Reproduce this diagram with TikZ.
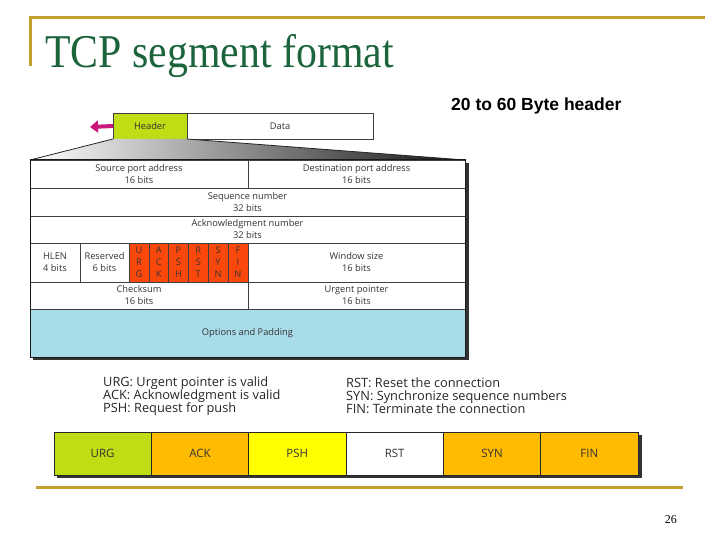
\documentclass[tikz,border=0pt]{standalone}
\usepackage{fontspec}
\setmainfont{Liberation Serif}
\newfontfamily\arialfont{Liberation Sans}
\newfontfamily\figfont{Open Sans}
\usetikzlibrary{arrows.meta, positioning}

\definecolor{gold}{RGB}{193,160,45}
\definecolor{titlegreen}{RGB}{28,100,60}
\definecolor{limegreen}{RGB}{192,220,20}
\definecolor{flagred}{RGB}{250,72,12}
\definecolor{optblue}{RGB}{169,220,233}
\definecolor{amber}{RGB}{255,187,0}
\definecolor{brightyellow}{RGB}{255,255,0}
\definecolor{arrowpink}{RGB}{200,22,125}

\begin{document}
\begin{tikzpicture}[x=1pt, y=-1pt,
  cell/.style={draw=black!75, line width=0.6pt, fill=white, inner sep=0pt, outer sep=0pt,
    anchor=north west, align=center, text=black!80,
    font=\figfont\fontsize{9.3}{12}\selectfont},
  flag/.style={cell, fill=flagred, minimum width=19.8pt, minimum height=39pt},
  bar/.style={cell, draw=black!85, minimum width=97.33pt, minimum height=43pt,
    font=\figfont\fontsize{11.5}{13}\selectfont},
  legend/.style={anchor=west, inner sep=0pt, align=left, text=black!85,
    font=\figfont\fontsize{12.8}{13}\selectfont},
  goldline/.style={draw=gold, line width=3pt},
  shadow/.style={fill=black!80}]
  \useasboundingbox (0,0) rectangle (720,540);

  % slide frame
  \draw[goldline] (30,66) -- (30,18) -- (705,18);
  \draw[goldline] (36,487) -- (683,487);
  \node[anchor=base west, inner sep=0pt, text=titlegreen, font=\fontsize{47}{47}\selectfont]
    (title) at (45,68) {\scalebox{0.89}[1]{TCP segment format}};
  \node[anchor=base west, inner sep=0pt, font=\arialfont\bfseries\fontsize{17.5}{18}\selectfont]
    (hdrsize) at (451,111) {20 to 60 Byte header};
  \node[anchor=base east, inner sep=0pt, font=\fontsize{12}{12}\selectfont] (pagenum) at (677,523) {26};

  % segment
  \node[cell, fill=limegreen, minimum width=74pt, minimum height=26pt] (hdr) at (113,113) {Header};
  \node[cell, minimum width=186pt, minimum height=26pt] (data) at (187,113) {Data};
  \coordinate (arrowtip) at (90,127);
  \draw[arrowpink, line width=4pt, -{Triangle[length=8pt, width=12pt]}] (hdr.west) -- (arrowtip);

  % header fields
  \fill[shadow] (33,163) rectangle (469,360);
  \node[cell, minimum width=218pt, minimum height=28pt] (srcport) at (30,160) {Source port address\\16 bits};
  \node[cell, minimum width=217pt, minimum height=28pt] (dstport) at (248,160) {Destination port address\\16 bits};
  \shade[left color=white, middle color=black!45, right color=black!92] (hdr.south west) -- (hdr.south east)
    -- (dstport.north east) -- (srcport.north west) -- cycle;
  \draw[black!85, line width=0.8pt] (srcport.north west) -- (hdr.south west);
  \draw[black!85, line width=0.8pt] (hdr.south east) -- (dstport.north east);
  \node[cell, minimum width=435pt, minimum height=28pt] (seqnum) at (30,188) {Sequence number\\32 bits};
  \node[cell, minimum width=435pt, minimum height=27pt] (acknum) at (30,216) {Acknowledgment number\\32 bits};
  \node[cell, minimum width=50pt, minimum height=39pt] (hlen) at (30,243) {HLEN\\4 bits};
  \node[cell, minimum width=49pt, minimum height=39pt] (resv) at (80,243) {Reserved\\6 bits};
  \node[flag, right=0pt of resv] (furg) {U\\R\\G};
  \node[flag, right=0pt of furg] (fack) {A\\C\\K};
  \node[flag, right=0pt of fack] (fpsh) {P\\S\\H};
  \node[flag, right=0pt of fpsh] (frst) {R\\S\\T};
  \node[flag, right=0pt of frst] (fsyn) {S\\Y\\N};
  \node[flag, right=0pt of fsyn] (ffin) {F\\I\\N};
  \node[cell, minimum width=217pt, minimum height=39pt] (window) at (248,243) {Window size\\16 bits};
  \node[cell, minimum width=218pt, minimum height=27pt] (checksum) at (30,282) {Checksum\\16 bits};
  \node[cell, minimum width=217pt, minimum height=27pt] (urgptr) at (248,282) {Urgent pointer\\16 bits};
  \node[cell, fill=optblue, minimum width=435pt, minimum height=48pt] (options) at (30,309) {Options and Padding};
  \draw[black!90, line width=1pt] (srcport.north west) rectangle (options.south east);

  % flag legend
  \node[legend] (legleft) at (103,396) {URG: Urgent pointer is valid\\ACK: Acknowledgment is valid\\PSH: Request for push};
  \node[legend] (legright) at (346,396) {RST: Reset the connection\\SYN: Synchronize sequence numbers\\FIN: Terminate the connection};

  % flag bar
  \fill[shadow] (57,435) rectangle (642,478);
  \node[bar, fill=limegreen] (burg) at (54,432) {URG};
  \node[bar, fill=amber, right=0pt of burg] (back) {ACK};
  \node[bar, fill=brightyellow, right=0pt of back] (bpsh) {PSH};
  \node[bar, right=0pt of bpsh] (brst) {RST};
  \node[bar, fill=amber, right=0pt of brst] (bsyn) {SYN};
  \node[bar, fill=amber, right=0pt of bsyn] (bfin) {FIN};
\end{tikzpicture}
\end{document}
